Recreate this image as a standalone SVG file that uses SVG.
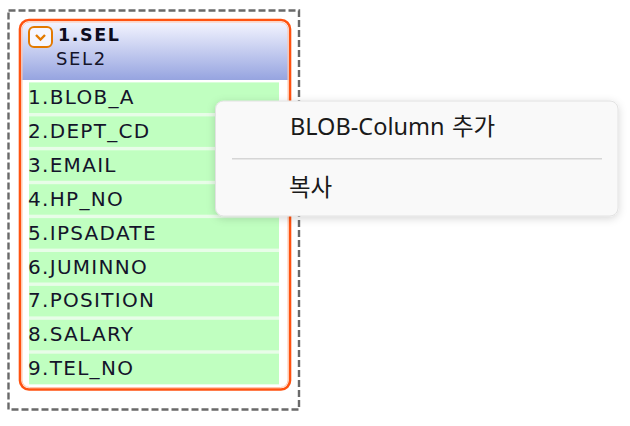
<svg xmlns="http://www.w3.org/2000/svg" width="630" height="426" viewBox="0 0 630 426">
<defs>
<linearGradient id="hdr" x1="0" y1="0" x2="0" y2="1">
<stop offset="0" stop-color="#f4f5ff"/>
<stop offset="1" stop-color="#96a4e0"/>
</linearGradient>
<filter id="sh" x="-10%" y="-20%" width="120%" height="150%">
<feDropShadow dx="0" dy="2" stdDeviation="4" flood-color="#000" flood-opacity="0.16"/>
</filter>
<style>
.row{fill:#c0ffc0}
.rt{font-family:"DejaVu Sans",Verdana,sans-serif;font-size:20px;letter-spacing:1.3px;fill:#14142a}
.mt{font-family:"Noto Sans","Noto Sans CJK KR",sans-serif;font-size:23.5px;fill:#1a1a1a}
</style>
</defs>
<rect width="630" height="426" fill="#ffffff"/>
<g id="table-SEL">
<rect x="8.5" y="10.5" width="290.5" height="399" fill="none" stroke="#6a6a6a" stroke-width="2.4" stroke-dasharray="7,3"/>
<rect x="20" y="20" width="270" height="369.5" rx="9" fill="#ffffff" stroke="#ff5210" stroke-width="2.6"/>
<path d="M21.5,80 V30 A8,8 0 0 1 29.5,21.5 H280.5 A8,8 0 0 1 288.5,30 V80 Z" fill="url(#hdr)"/>
<rect x="22" y="22" width="266" height="365.5" rx="7.5" fill="none" stroke="#ffc7ad" stroke-width="1"/>
<rect x="29" y="27" width="23" height="20" rx="5" fill="#f6f6ff" stroke="#e37a00" stroke-width="2"/>
<polyline points="36,35 40.5,39.5 45,35" fill="none" stroke="#e37a00" stroke-width="2.4"/>
<text x="58" y="41" font-family="'DejaVu Sans',Verdana,sans-serif" font-size="17.5" font-weight="bold" letter-spacing="1.6" fill="#0c0c1e">1.SEL</text>
<text x="56" y="65" font-family="'DejaVu Sans',Verdana,sans-serif" font-size="18" letter-spacing="1.6" fill="#14142a">SEL2</text>
<rect x="29" y="82.5" width="250" height="302" fill="#e8fde8"/>
<rect class="row" x="29" y="82.5" width="250" height="30.5"/>
<rect class="row" x="29" y="116.4" width="250" height="30.5"/>
<rect class="row" x="29" y="150.3" width="250" height="30.5"/>
<rect class="row" x="29" y="184.2" width="250" height="30.5"/>
<rect class="row" x="29" y="218.1" width="250" height="30.5"/>
<rect class="row" x="29" y="252" width="250" height="30.5"/>
<rect class="row" x="29" y="285.9" width="250" height="30.5"/>
<rect class="row" x="29" y="319.8" width="250" height="30.5"/>
<rect class="row" x="29" y="353.7" width="250" height="30.5"/>
<text class="rt" x="28" y="104">1.BLOB_A</text>
<text class="rt" x="28" y="137.9">2.DEPT_CD</text>
<text class="rt" x="28" y="171.8">3.EMAIL</text>
<text class="rt" x="28" y="205.7">4.HP_NO</text>
<text class="rt" x="28" y="239.6">5.IPSADATE</text>
<text class="rt" x="28" y="273.5">6.JUMINNO</text>
<text class="rt" x="28" y="307.4">7.POSITION</text>
<text class="rt" x="28" y="341.3">8.SALARY</text>
<text class="rt" x="28" y="375.2">9.TEL_NO</text>
</g>
<g id="connectors"></g>
<g id="context-menu">
<rect x="215.5" y="101" width="402.5" height="115" rx="8" fill="#f9f9f9" stroke="#e2e2e2" stroke-width="1" filter="url(#sh)"/>
<line x1="232" y1="158.8" x2="602" y2="158.8" stroke="#d6d6d6" stroke-width="1.6"/>
<text class="mt" x="290" y="135">BLOB-Column <tspan x="452">추가</tspan></text>
<text class="mt" x="289" y="195.5">복사</text>
</g>
</svg>
